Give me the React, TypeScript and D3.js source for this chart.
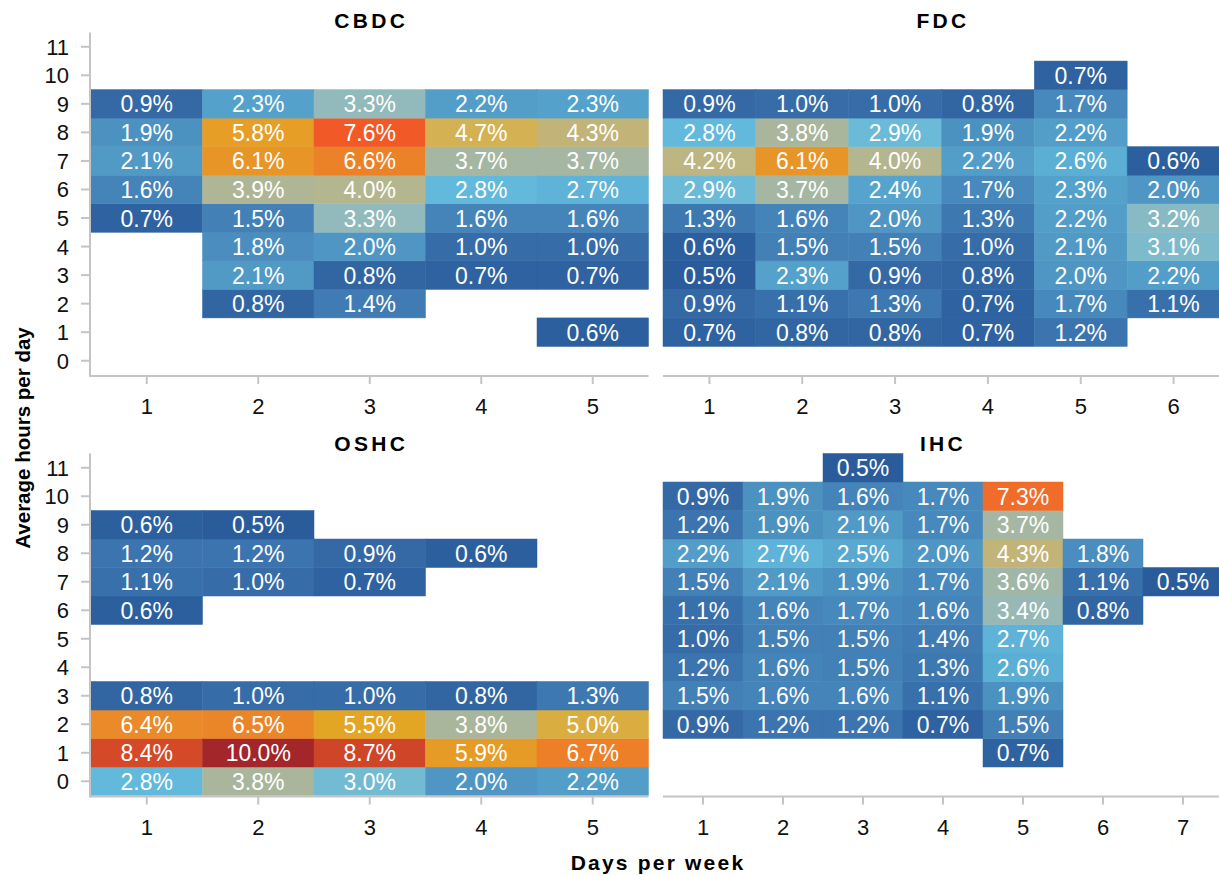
import React from "react";
import * as d3 from "d3";

// Values per day-column, indexed by hour 0..11 (null = no cell)
const hours = [0, 1, 2, 3, 4, 5, 6, 7, 8, 9, 10, 11];
const _ = null;

const cbdcDays = [1, 2, 3, 4, 5];
const cbdcValues = [
  [_, _, _, _, _, 0.7, 1.6, 2.1, 1.9, 0.9, _, _],
  [_, _, 0.8, 2.1, 1.8, 1.5, 3.9, 6.1, 5.8, 2.3, _, _],
  [_, _, 1.4, 0.8, 2.0, 3.3, 4.0, 6.6, 7.6, 3.3, _, _],
  [_, _, _, 0.7, 1.0, 1.6, 2.8, 3.7, 4.7, 2.2, _, _],
  [_, 0.6, _, 0.7, 1.0, 1.6, 2.7, 3.7, 4.3, 2.3, _, _],
];

const fdcDays = [1, 2, 3, 4, 5, 6];
const fdcValues = [
  [_, 0.7, 0.9, 0.5, 0.6, 1.3, 2.9, 4.2, 2.8, 0.9, _, _],
  [_, 0.8, 1.1, 2.3, 1.5, 1.6, 3.7, 6.1, 3.8, 1.0, _, _],
  [_, 0.8, 1.3, 0.9, 1.5, 2.0, 2.4, 4.0, 2.9, 1.0, _, _],
  [_, 0.7, 0.7, 0.8, 1.0, 1.3, 1.7, 2.2, 1.9, 0.8, _, _],
  [_, 1.2, 1.7, 2.0, 2.1, 2.2, 2.3, 2.6, 2.2, 1.7, 0.7, _],
  [_, _, 1.1, 2.2, 3.1, 3.2, 2.0, 0.6, _, _, _, _],
];

const oshcDays = [1, 2, 3, 4, 5];
const oshcValues = [
  [2.8, 8.4, 6.4, 0.8, _, _, 0.6, 1.1, 1.2, 0.6, _, _],
  [3.8, 10.0, 6.5, 1.0, _, _, _, 1.0, 1.2, 0.5, _, _],
  [3.0, 8.7, 5.5, 1.0, _, _, _, 0.7, 0.9, _, _, _],
  [2.0, 5.9, 3.8, 0.8, _, _, _, _, 0.6, _, _, _],
  [2.2, 6.7, 5.0, 1.3, _, _, _, _, _, _, _, _],
];

const ihcDays = [1, 2, 3, 4, 5, 6, 7];
const ihcValues = [
  [_, _, 0.9, 1.5, 1.2, 1.0, 1.1, 1.5, 2.2, 1.2, 0.9, _],
  [_, _, 1.2, 1.6, 1.6, 1.5, 1.6, 2.1, 2.7, 1.9, 1.9, _],
  [_, _, 1.2, 1.6, 1.5, 1.5, 1.7, 1.9, 2.5, 2.1, 1.6, 0.5],
  [_, _, 0.7, 1.1, 1.3, 1.4, 1.6, 1.7, 2.0, 1.7, 1.7, _],
  [_, 0.7, 1.5, 1.9, 2.6, 2.7, 3.4, 3.6, 4.3, 3.7, 7.3, _],
  [_, _, _, _, _, _, 0.8, 1.1, 1.8, _, _, _],
  [_, _, _, _, _, _, _, 0.5, _, _, _, _],
];

const colorStops = [0.5, 1.0, 1.5, 2.0, 2.5, 2.8, 3.0, 3.3, 3.8, 4.2, 4.7, 5.5, 6.1, 6.6, 7.3, 7.6, 8.4, 8.7, 10.0];
const colorRange = [
  "#2a5c9c", "#366ca8", "#4280b6", "#4f96c4", "#58a8d0", "#62b9dc", "#72bbd3", "#92b9bb",
  "#aab69c", "#bdb582", "#d4b153", "#e3a624", "#e89527", "#ec8228", "#ef6c2a", "#f15a27",
  "#d44a28", "#cf4528", "#a3262a",
];

const FONT = "'Liberation Sans', Arial, Helvetica, sans-serif";
const AXIS = "#c4c4c4";

const color = d3.scaleLinear<string>().domain(colorStops).range(colorRange).clamp(true);

type PanelDef = {
  name: string;
  days: number[];
  values: (number | null)[][];
  x0: number;
  x1: number;
  yBottom: number;
  yTop: number;
  yAxis: boolean;
  titleY: number;
};

const panels: PanelDef[] = [
  { name: "CBDC", days: cbdcDays, values: cbdcValues, x0: 91, x1: 648.5, yBottom: 375, yTop: 32.5, yAxis: true, titleY: 28 },
  { name: "FDC", days: fdcDays, values: fdcValues, x0: 663, x1: 1220, yBottom: 375, yTop: 32.5, yAxis: false, titleY: 28 },
  { name: "OSHC", days: oshcDays, values: oshcValues, x0: 91, x1: 648.5, yBottom: 795.5, yTop: 453.5, yAxis: true, titleY: 451 },
  { name: "IHC", days: ihcDays, values: ihcValues, x0: 663, x1: 1223, yBottom: 795.5, yTop: 453.5, yAxis: false, titleY: 451 },
];

function Panel({ p }: { p: PanelDef }) {
  const x = d3.scaleBand<number>().domain(p.days).range([p.x0, p.x1]);
  const y = d3.scaleBand<number>().domain(hours).range([p.yBottom, p.yTop]);
  const cells: { d: number; h: number; v: number }[] = [];
  p.days.forEach((d, i) => {
    p.values[i].forEach((v, h) => {
      if (v !== null) cells.push({ d, h, v });
    });
  });
  const axisStart = p.yAxis ? p.x0 - 1 : p.x0;
  return (
    <g>
      <text
        x={(p.x0 + Math.min(p.x1, 1220)) / 2 + 1.5}
        y={p.titleY}
        textAnchor="middle"
        fontFamily={FONT}
        fontWeight="bold"
        fontSize={21}
        letterSpacing={3.3}
        fill="#000"
      >
        {p.name}
      </text>
      {cells.map((c) => (
        <g key={`${c.d}-${c.h}`}>
          <rect
            x={x(c.d)!}
            y={y(c.h)!}
            width={x.bandwidth()}
            height={y.bandwidth()}
            fill={color(c.v)}
            stroke={color(c.v)}
            strokeWidth={0.5}
          />
          <text
            x={x(c.d)! + x.bandwidth() / 2}
            y={y(c.h)! + y.bandwidth() / 2 + 8.5}
            textAnchor="middle"
            fontFamily={FONT}
            fontSize={23}
            fill="#fff"
          >
            {c.v.toFixed(1) + "%"}
          </text>
        </g>
      ))}
      {/* x axis */}
      <line x1={axisStart} x2={Math.min(p.x1, 1219)} y1={p.yBottom + 1} y2={p.yBottom + 1} stroke={AXIS} strokeWidth={2} />
      {p.days.map((d) => (
        <g key={"xt" + d}>
          <line
            x1={x(d)! + x.bandwidth() / 2}
            x2={x(d)! + x.bandwidth() / 2}
            y1={p.yBottom + 1}
            y2={p.yBottom + 9}
            stroke={AXIS}
            strokeWidth={2}
          />
          <text
            x={x(d)! + x.bandwidth() / 2}
            y={p.yBottom + 39}
            textAnchor="middle"
            fontFamily={FONT}
            fontSize={22}
            fill="#111"
          >
            {d}
          </text>
        </g>
      ))}
      {p.yAxis && (
        <g>
          <line x1={p.x0 - 1} x2={p.x0 - 1} y1={p.yTop} y2={p.yBottom + 2} stroke={AXIS} strokeWidth={2} />
          {hours.map((h) => (
            <g key={"yt" + h}>
              <line
                x1={p.x0 - 10}
                x2={p.x0 - 1}
                y1={y(h)! + y.bandwidth() / 2}
                y2={y(h)! + y.bandwidth() / 2}
                stroke={AXIS}
                strokeWidth={2}
              />
              <text
                x={p.x0 - 22}
                y={y(h)! + y.bandwidth() / 2 + 8}
                textAnchor="end"
                fontFamily={FONT}
                fontSize={22}
                fill="#111"
              >
                {h}
              </text>
            </g>
          ))}
        </g>
      )}
    </g>
  );
}

export default function App() {
  return (
    <svg
      width={1219}
      height={876}
      style={{ position: "absolute", left: 0, top: 0, background: "#fff" }}
    >
      <rect x={0} y={0} width={1219} height={876} fill="#fff" />
      {panels.map((p) => (
        <Panel key={p.name} p={p} />
      ))}
      <text
        x={658}
        y={870}
        textAnchor="middle"
        fontFamily={FONT}
        fontWeight="bold"
        fontSize={21}
        letterSpacing={2.2}
        fill="#000"
      >
        Days per week
      </text>
      <text
        transform="translate(30,438) rotate(-90)"
        textAnchor="middle"
        fontFamily={FONT}
        fontWeight="bold"
        fontSize={20.5}
        fill="#000"
      >
        Average hours per day
      </text>
    </svg>
  );
}
